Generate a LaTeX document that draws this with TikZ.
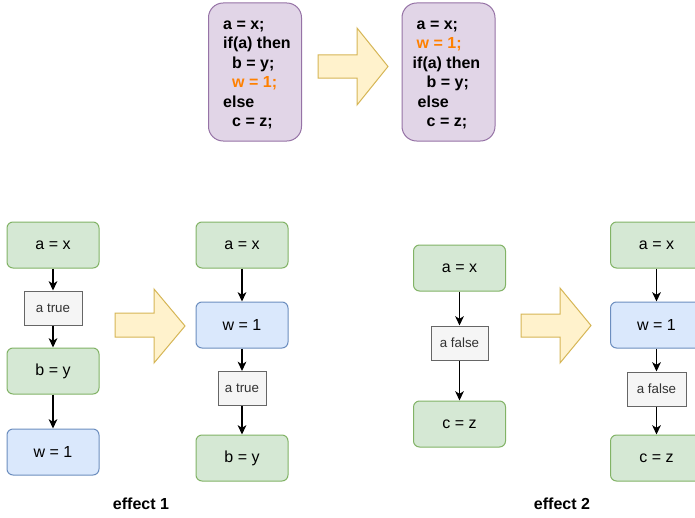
\documentclass[tikz,border=0pt]{standalone}
\usepackage{fontspec}
\setmainfont{Liberation Sans}
\usetikzlibrary{arrows.meta}
\definecolor{purfill}{HTML}{E1D5E7}
\definecolor{purline}{HTML}{9673A6}
\definecolor{grfill}{HTML}{D5E8D4}
\definecolor{grline}{HTML}{82B366}
\definecolor{blfill}{HTML}{DAE8FC}
\definecolor{blline}{HTML}{6C8EBF}
\definecolor{gyfill}{HTML}{F5F5F5}
\definecolor{gyline}{HTML}{666666}
\definecolor{gytext}{HTML}{333333}
\definecolor{yefill}{HTML}{FFF2CC}
\definecolor{yeline}{HTML}{D6B656}
\definecolor{orangetxt}{HTML}{FF8000}
\tikzset{
  codebox/.style={draw=purline, fill=purfill, rounded corners=11pt, line width=0.75pt,
    minimum width=69.75pt, minimum height=103.5pt, inner sep=0pt},
  codetext/.style={inner sep=0pt, align=left,
    font=\bfseries\fontsize{12}{14.6}\selectfont},
  greenbox/.style={draw=grline, fill=grfill, rounded corners=4.5pt, line width=0.75pt,
    minimum width=69pt, minimum height=34.5pt, inner sep=0pt, font=\fontsize{12}{14}\selectfont},
  bluebox/.style={draw=blline, fill=blfill, rounded corners=4.5pt, line width=0.75pt,
    minimum width=69pt, minimum height=34.5pt, inner sep=0pt, font=\fontsize{12}{14}\selectfont},
  condbox/.style={draw=gyline, fill=gyfill, line width=0.75pt, text=gytext,
    minimum height=25.5pt, inner sep=0pt, font=\fontsize{10}{12}\selectfont},
  bigarrow/.style={draw=yeline, fill=yefill, line width=0.75pt, line join=miter},
  flow/.style={draw=black, line width=1.1pt, -{Stealth[length=7pt,width=6.5pt,inset=2pt]}},
  caption/.style={font=\bfseries\fontsize{12}{14}\selectfont, inner sep=0pt}
}
\newcommand{\ind}[1]{\hspace*{#1pt}}
\begin{document}
\begin{tikzpicture}[x=0.75pt,y=-0.75pt]
\useasboundingbox (0,0) rectangle (695,517);
\fill[white] (0,0) rectangle (695,517);

% top code boxes
\node[codebox] (code1) at (255,72) {};
\node[codetext] (code1t) at (257,75) {a = x;\\if(a) then\\\ind{6.75}b = y;\\\ind{6.75}\textcolor{orangetxt}{w = 1;}\\else\\\ind{6.75}c = z;};
\node[codebox] (code2) at (448.5,72) {};
\node[codetext] (code2t) at (446.5,75) {\ind{3}a = x;\\\ind{3}\textcolor{orangetxt}{w = 1;}\\if(a) then\\\ind{10.5}b = y;\\\ind{3.75}else\\\ind{10.5}c = z;};
\draw[bigarrow] (318,55) -- (357,55) -- (357,28) -- (388,66.5) -- (357,105) -- (357,78) -- (318,78) -- cycle;

% effect 1, before
\node[greenbox] (e1ax) at (53,245) {a = x};
\node[condbox, minimum width=43.5pt] (e1at) at (53,308) {a true};
\node[greenbox] (e1by) at (53,371) {b = y};
\node[bluebox] (e1w) at (53,452) {w = 1};
\draw[flow] (e1ax) -- (e1at);
\draw[flow] (e1at) -- (e1by);
\draw[flow] (e1by) -- (e1w);

\draw[bigarrow] (115,313) -- (154,313) -- (154,289) -- (185,326) -- (154,363) -- (154,337) -- (115,337) -- cycle;

% effect 1, after
\node[greenbox] (f1ax) at (242,245) {a = x};
\node[bluebox] (f1w) at (242,325) {w = 1};
\node[condbox, minimum width=36pt] (f1at) at (242,388.5) {a true};
\node[greenbox] (f1by) at (242,458) {b = y};
\draw[flow] (f1ax) -- (f1w);
\draw[flow] (f1w) -- (f1at);
\draw[flow] (f1at) -- (f1by);

\node[caption] (cap1) at (141,504) {effect 1};

% effect 2, before
\node[greenbox] (e2ax) at (459.5,268) {a = x};
\node[condbox, minimum width=42.75pt] (e2af) at (459.5,343) {a false};
\node[greenbox] (e2cz) at (459.5,424) {c = z};
\draw[flow] (e2ax) -- (e2af);
\draw[flow] (e2af) -- (e2cz);

\draw[bigarrow] (521,314) -- (560,314) -- (560,288) -- (591,325.5) -- (560,363) -- (560,337) -- (521,337) -- cycle;

% effect 2, after
\node[greenbox] (f2ax) at (656.5,245) {a = x};
\node[bluebox] (f2w) at (656.5,325) {w = 1};
\node[condbox, minimum width=44.25pt] (f2af) at (656.5,389) {a false};
\node[greenbox] (f2cz) at (656.5,458) {c = z};
\draw[flow] (f2ax) -- (f2w);
\draw[flow] (f2w) -- (f2af);
\draw[flow] (f2af) -- (f2cz);

\node[caption] (cap2) at (562,504) {effect 2};
\end{tikzpicture}
\end{document}
